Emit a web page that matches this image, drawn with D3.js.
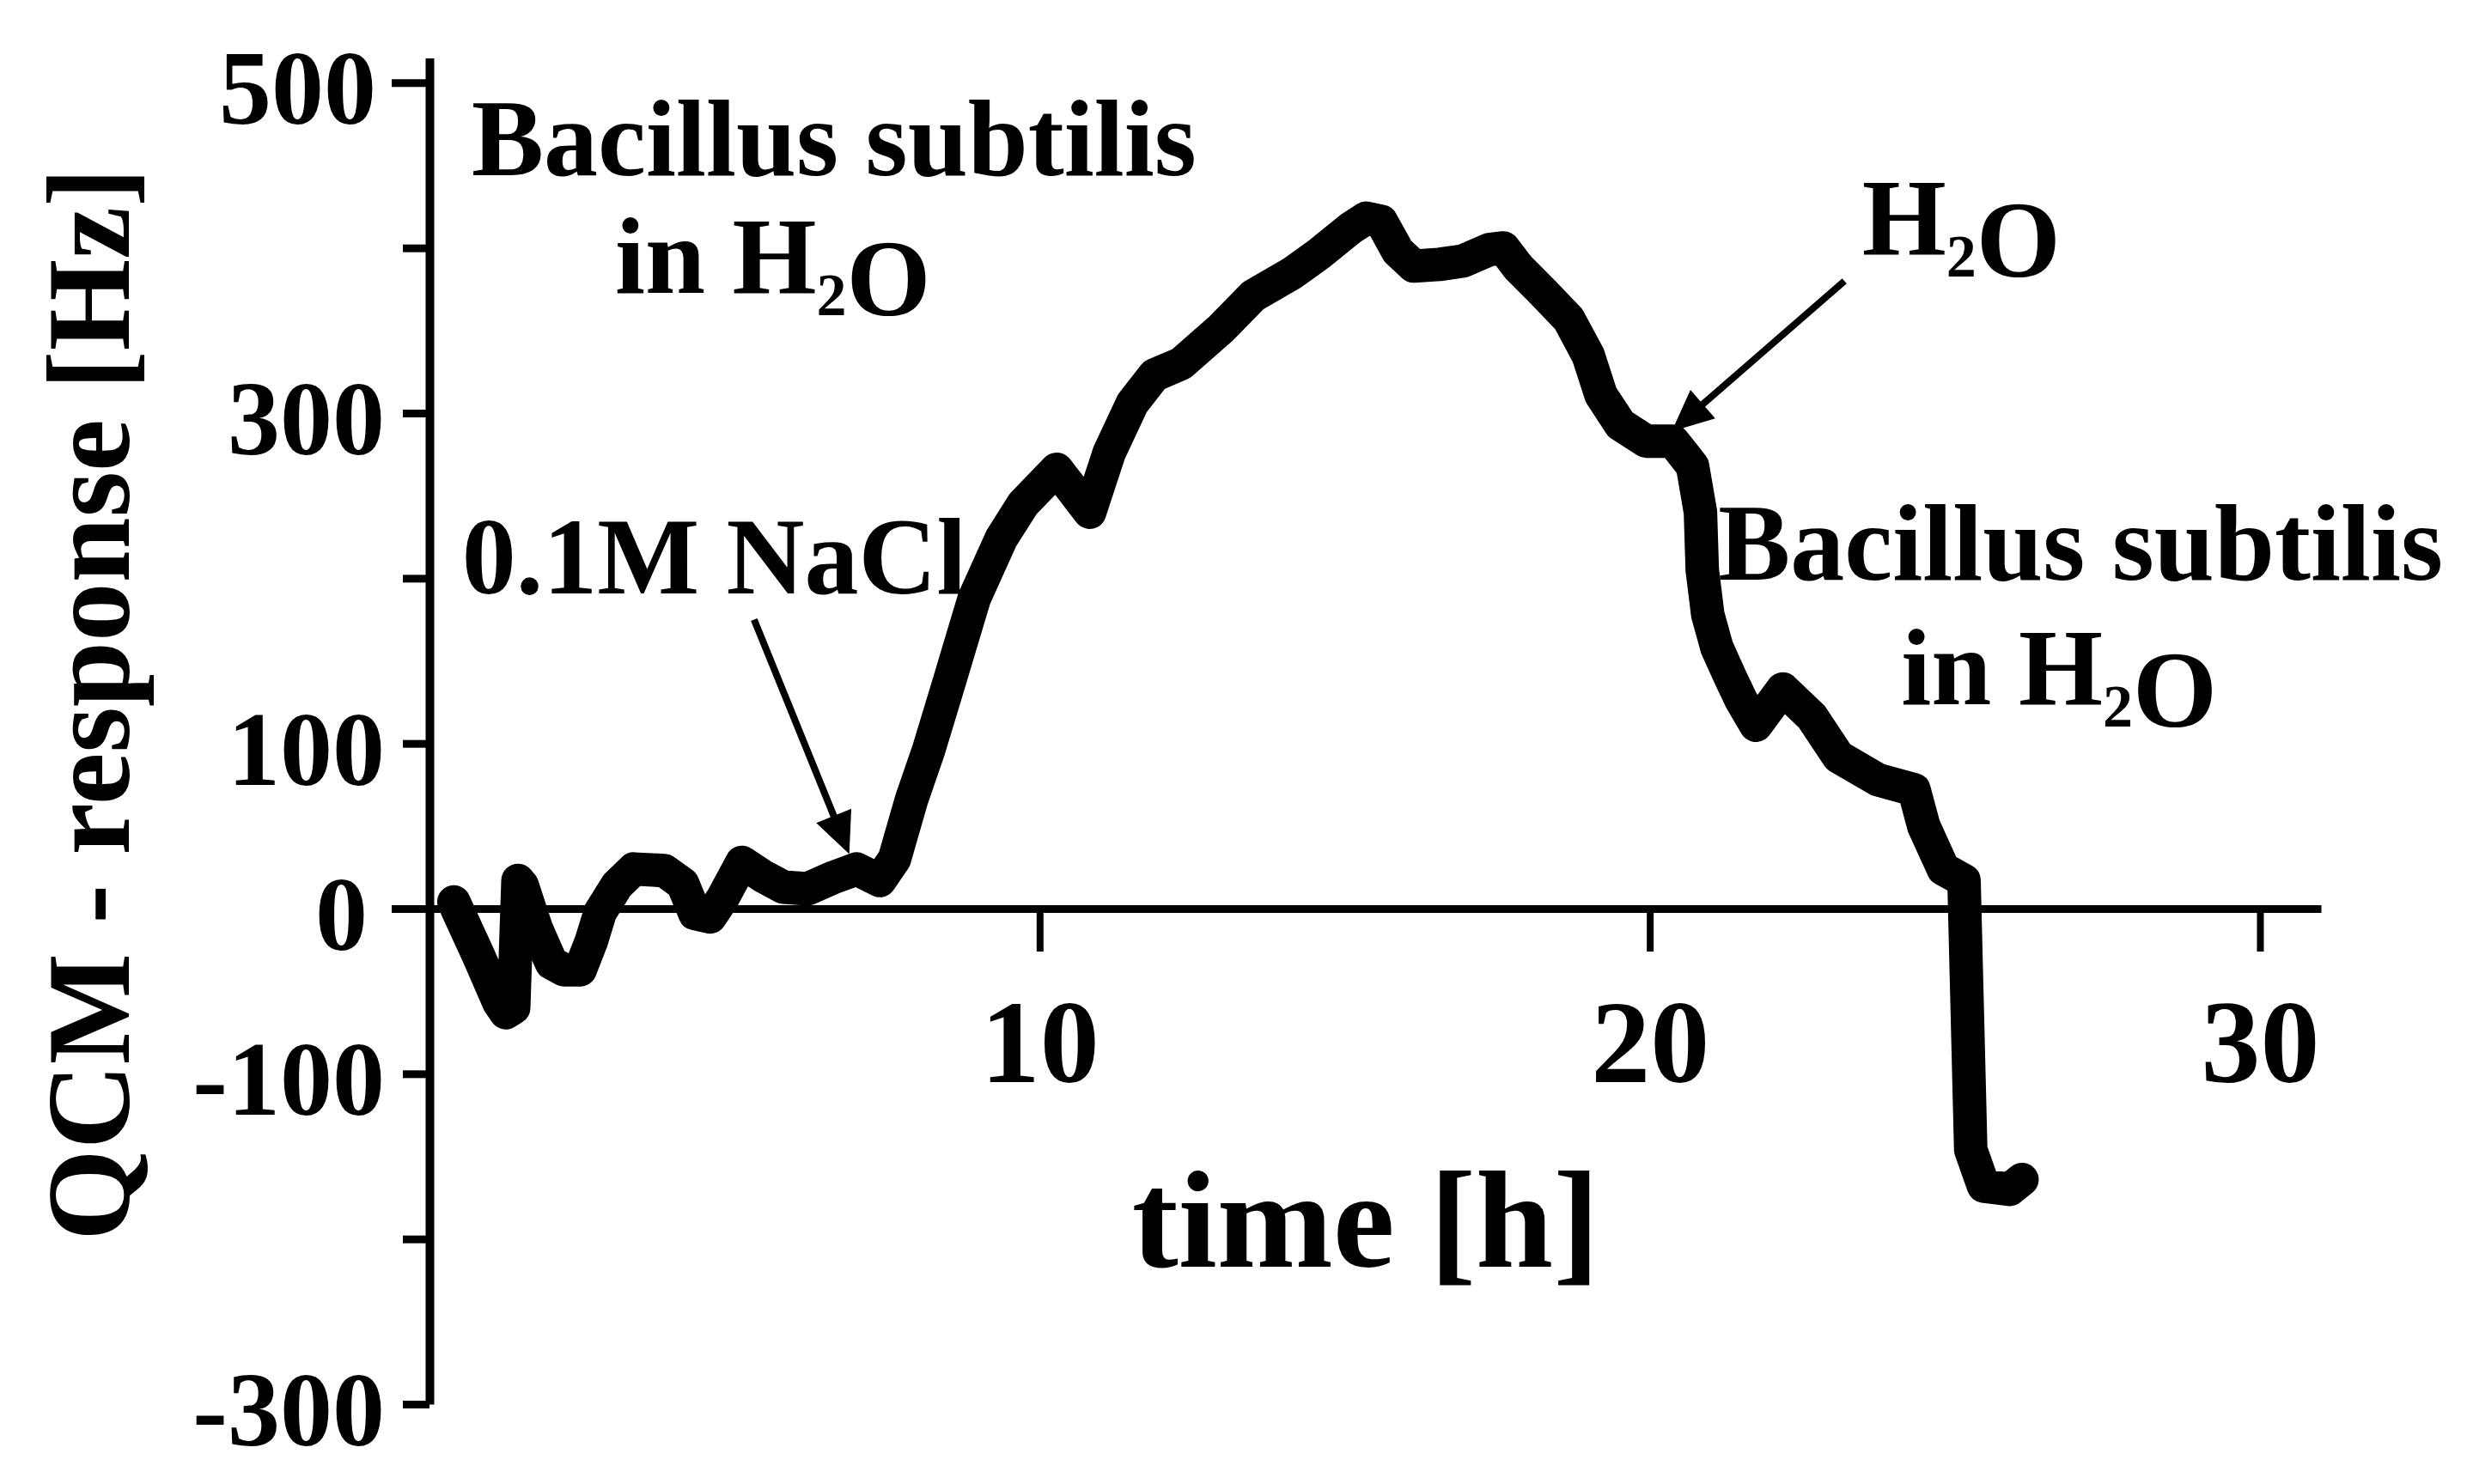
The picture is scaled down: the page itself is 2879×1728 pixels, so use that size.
<!DOCTYPE html>
<html>
<head>
<meta charset="utf-8">
<script src="https://cdn.jsdelivr.net/npm/d3@7"></script>
<style>
html,body{margin:0;padding:0;background:#fff;}
svg{display:block;}
text{font-family:"Liberation Serif","Times New Roman",serif;font-weight:bold;fill:#000;}
</style>
</head>
<body>
<script>
// ---- data ----
const timeH = [0.40,0.81,1.14,1.25,1.38,1.45,1.52,1.75,2.00,2.20,2.47,2.65,2.80,3.07,3.35,3.85,4.15,4.35,4.60,4.80,5.12,5.45,5.80,6.20,6.63,7.00,7.38,7.62,7.90,8.18,8.50,8.93,9.37,9.73,10.28,10.82,11.14,11.52,11.88,12.32,12.97,13.50,14.15,14.60,15.10,15.35,15.60,15.87,16.13,16.55,16.93,17.37,17.60,17.85,18.28,18.67,18.99,19.20,19.52,19.94,20.38,20.70,20.83,20.86,20.95,21.10,21.32,21.50,21.74,22.18,22.66,23.09,23.74,24.33,24.49,24.81,25.15,25.20,25.26,25.47,25.90,26.10];
const qcmHz = [4,-29,-57,-63,-60,17,14,-12,-33,-37,-37,-20,-2,14,24,23,15,-3,-5,6,28,20,13,12,19,24,17,30,66,96,135,188,224,245,266,240,276,306,323,330,351,371,385,397,412,418,416,398,389,390,392,399,400,388,372,357,335,311,293,283,283,268,240,205,178,158,140,126,111,133,116,92,78,72,50,24,17,-57,-146,-168,-170,-164];

const xTickValues = [10, 20, 30];
const yTickValues = [500, 400, 300, 200, 100, 0, -100, -200, -300];
const yTickLabelled = [500, 300, 100, 0, -100, -300];
const yLongTicks = [500, 0];

const xTitle = "time [h]";
const yTitle = "QCM - response [Hz]";

// annotations (anchors in data units: time, Hz)
const annoTexts = ["Bacillus subtilis", "in H_2O", "0.1M NaCl", "H_2O", "Bacillus subtilis", "in H_2O"];
const annoT = [0.69, 3.04, 0.53, 23.48, 21.12, 24.12];
const annoV = [444, 373, 191, 396, 199, 124];
// arrows: [t0, v0] -> tip [t1, v1]
const arrowFromT = [5.32, 23.19];
const arrowFromV = [175, 380];
const arrowToT = [6.88, 20.36];
const arrowToV = [33, 289];

// ---- drawing ----
const W = 2879, H = 1728;
const svg = d3.select("body").append("svg").attr("width", W).attr("height", H);

const x = d3.scaleLinear().domain([0, 31]).range([500, 2702]);
const y = d3.scaleLinear().domain([-300, 515]).range([1635, 67.5]);

// y axis
const yLabelShift = d => d === 0 ? -72 : (d === 500 ? -62 : -52);
const yAxis = d3.axisLeft(y).tickValues(yTickValues).tickSize(31).tickSizeOuter(0)
  .tickFormat(d => yTickLabelled.includes(d) ? String(d) : "");
const gy = svg.append("g").attr("transform", `translate(${x(0)},0)`).call(yAxis);
gy.select(".domain").attr("stroke", "#000").attr("stroke-width", 10);
gy.selectAll(".tick line").attr("stroke", "#000").attr("stroke-width", 9)
  .attr("x2", d => yLongTicks.includes(d) ? -44 : -31);
gy.selectAll(".tick text").attr("x", yLabelShift).attr("dy", "0.39em")
  .style("font-size", "122px").attr("fill", "#000");

// x axis
const xAxis = d3.axisBottom(x).tickValues(xTickValues).tickSize(50).tickSizeOuter(0)
  .tickFormat(d => String(d));
const gx = svg.append("g").attr("transform", `translate(0,${y(0)})`).call(xAxis);
gx.select(".domain").attr("stroke", "#000").attr("stroke-width", 9);
gx.selectAll(".tick line").attr("stroke", "#000").attr("stroke-width", 8);
gx.selectAll(".tick text").attr("y", 202).attr("dy", 0)
  .style("font-size", "138px").attr("fill", "#000");
svg.selectAll(".tick text").style("font-family", "'Liberation Serif','Times New Roman',serif").style("font-weight", "bold");

// axis titles
svg.append("text").attr("x", 1590).attr("y", 1475).attr("text-anchor", "middle")
  .style("font-size", "162px").text(xTitle);
svg.append("text").attr("transform", "translate(150,820) rotate(-90)").attr("text-anchor", "middle")
  .style("font-size", "137px").text(yTitle);

// data line
const pts = timeH.map((t, i) => [t, qcmHz[i]]);
const line = d3.line().x(d => x(d[0])).y(d => y(d[1])).curve(d3.curveLinear);
svg.append("path").datum(pts).attr("d", line)
  .attr("fill", "none").attr("stroke", "#000").attr("stroke-width", 39)
  .attr("stroke-linejoin", "round").attr("stroke-linecap", "round");

// arrows
arrowFromT.forEach((t0, i) => {
  const x0 = x(t0), y0 = y(arrowFromV[i]);
  const x1 = x(arrowToT[i]), y1 = y(arrowToV[i]);
  const dx = x1 - x0, dy = y1 - y0, L = Math.hypot(dx, dy);
  const ux = dx / L, uy = dy / L, nx = -uy, ny = ux;
  const hl = 48, hw = 22;
  const bx = x1 - ux * hl, by = y1 - uy * hl;
  svg.append("line").attr("x1", x0).attr("y1", y0).attr("x2", bx + ux * 4).attr("y2", by + uy * 4)
    .attr("stroke", "#000").attr("stroke-width", 8);
  svg.append("path")
    .attr("d", `M${x1},${y1}L${bx + nx * hw},${by + ny * hw}L${bx - nx * hw},${by - ny * hw}Z`)
    .attr("fill", "#000");
});

// annotation texts (with subscript support "_2")
annoTexts.forEach((s, i) => {
  const t = svg.append("text").attr("x", x(annoT[i])).attr("y", y(annoV[i]))
    .style("font-size", "126px");
  const parts = s.split(/(_\d)/);
  parts.forEach(p => {
    if (!p) return;
    if (p.startsWith("_")) {
      t.append("tspan").attr("dy", 26).style("font-size", "70px").text(p.slice(1));
      t.append("tspan").attr("dy", -26).text("");
    } else {
      t.append("tspan").text(p);
    }
  });
});
</script>
</body>
</html>
